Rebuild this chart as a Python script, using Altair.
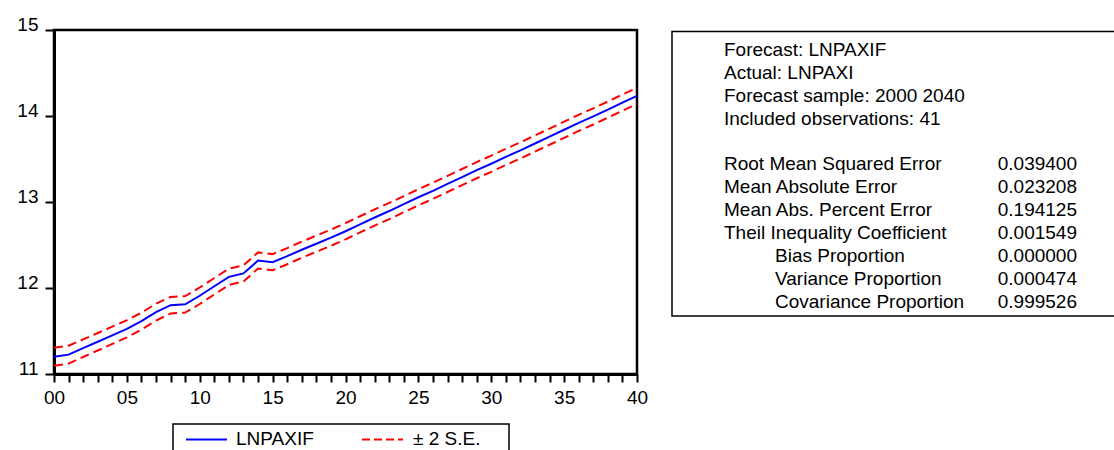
import altair as alt
import pandas as pd

FONT = "Liberation Sans"
FS = 19

years = list(range(2000, 2041))
forecast = [11.20, 11.225, 11.30, 11.375, 11.45, 11.525, 11.615, 11.72, 11.80, 11.81,
            11.91, 12.02, 12.13, 12.17, 12.32, 12.30, 12.37, 12.445, 12.515, 12.585,
            12.66, 12.74, 12.82, 12.895, 12.975, 13.055, 13.13, 13.21, 13.29, 13.37,
            13.445, 13.525, 13.60, 13.68, 13.76, 13.84, 13.92, 13.995, 14.075, 14.155,
            14.235]
se = [0.052, 0.052, 0.051, 0.051, 0.050, 0.050, 0.049, 0.049, 0.048, 0.048,
      0.048, 0.048, 0.047, 0.047, 0.047, 0.047, 0.047, 0.047, 0.047, 0.047,
      0.047, 0.047, 0.047, 0.047, 0.047, 0.047, 0.047, 0.047, 0.047, 0.047,
      0.047, 0.047, 0.047, 0.047, 0.047, 0.047, 0.047, 0.047, 0.047, 0.047,
      0.047]
y_ticks = [11, 12, 13, 14, 15]

header_lines = ["Forecast: LNPAXIF", "Actual: LNPAXI",
                "Forecast sample: 2000 2040", "Included observations: 41"]
stat_names = ["Root Mean Squared Error", "Mean Absolute Error",
              "Mean Abs. Percent Error", "Theil Inequality Coefficient",
              "Bias Proportion", "Variance Proportion", "Covariance Proportion"]
stat_values = ["0.039400", "0.023208", "0.194125", "0.001549",
               "0.000000", "0.000474", "0.999526"]
legend_labels = ["LNPAXIF", "\u00b1 2 S.E."]

df = pd.DataFrame({"year": years, "forecast": forecast, "se": se})
df["upper"] = df["forecast"] + 2 * df["se"]
df["lower"] = df["forecast"] - 2 * df["se"]

x_enc = alt.X(
    "year:Q",
    scale=alt.Scale(domain=[2000, 2040], nice=False, zero=False),
    axis=alt.Axis(
        values=years, title=None, grid=False,
        labelExpr="datum.value % 5 === 0 ? substring(toString(datum.value), 2) : ''",
        labelFlush=False, labelOverlap=False, labelFont=FONT, labelFontSize=FS,
        labelColor="black", labelPadding=6,
        tickSize=8, tickWidth=2, tickColor="black",
        domainWidth=3, domainColor="black",
    ),
)


def y_enc(field):
    return alt.Y(
        f"{field}:Q",
        scale=alt.Scale(domain=[11, 15], nice=False, zero=False),
        axis=alt.Axis(
            values=y_ticks, title=None, grid=False,
            labelFont=FONT, labelFontSize=FS, labelColor="black",
            labelBaseline="alphabetic", labelPadding=7, labelFlush=False,
            labelOverlap=False,
            tickSize=9, tickWidth=2, tickColor="black",
            domainWidth=3, domainColor="black",
        ),
    )


base = alt.Chart(df)
upper = base.mark_line(color="#FF0000", strokeWidth=2, strokeDash=[9, 5]).encode(x=x_enc, y=y_enc("upper"))
lower = base.mark_line(color="#FF0000", strokeWidth=2, strokeDash=[9, 5]).encode(x=x_enc, y=y_enc("lower"))
fc = base.mark_line(color="#0000FF", strokeWidth=2).encode(x=x_enc, y=y_enc("forecast"))

dummy = pd.DataFrame({"a": [0]})


def text_layer(txt, x, y, align="left"):
    return alt.Chart(dummy).mark_text(
        align=align, baseline="alphabetic", font=FONT, fontSize=FS, color="black"
    ).encode(x=alt.value(x), y=alt.value(y), text=alt.value(txt))


layers = [upper, lower, fc]

# Statistics box
layers.append(
    alt.Chart(dummy).mark_rect(fill="white", stroke="black", strokeWidth=1.5).encode(
        x=alt.value(618), x2=alt.value(1090), y=alt.value(1.5), y2=alt.value(286)
    )
)
for i, t in enumerate(header_lines):
    layers.append(text_layer(t, 670, 26 + 23 * i))
for i, (n, v) in enumerate(zip(stat_names, stat_values)):
    xi = 670 if i < 4 else 721
    layers.append(text_layer(n, xi, 140 + 23 * i))
    layers.append(text_layer(v, 1023, 140 + 23 * i, align="right"))

# Legend box
layers.append(
    alt.Chart(dummy).mark_rect(fill="white", stroke="black", strokeWidth=1.5).encode(
        x=alt.value(119), x2=alt.value(455), y=alt.value(394), y2=alt.value(440)
    )
)
layers.append(
    alt.Chart(dummy).mark_rule(color="#0000FF", strokeWidth=2).encode(
        x=alt.value(132), x2=alt.value(173), y=alt.value(409.5)
    )
)
layers.append(
    alt.Chart(dummy).mark_rule(color="#FF0000", strokeWidth=2, strokeDash=[8, 4]).encode(
        x=alt.value(308), x2=alt.value(349), y=alt.value(409.5)
    )
)
layers.append(text_layer(legend_labels[0], 182, 415))
layers.append(text_layer(legend_labels[1], 359, 415))

chart = alt.layer(*layers).properties(
    width=583, height=344,
    padding={"left": 54, "top": 30, "right": 477, "bottom": 76},
    autosize=alt.AutoSizeParams(type="none"),
    background="white",
).configure_view(stroke="black", strokeWidth=2.5)

chart.save("out.html", embed_options={"renderer": "svg", "actions": False})
